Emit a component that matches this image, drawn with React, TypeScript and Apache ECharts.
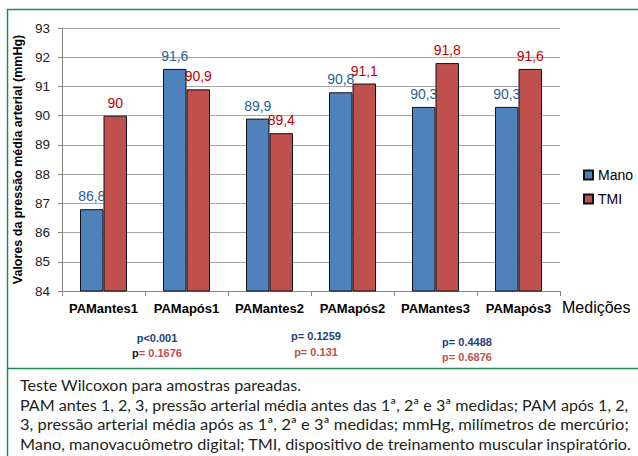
import React, { useEffect, useRef } from "react";
import * as echarts from "echarts";

const categories = ["PAMantes1", "PAMapós1", "PAMantes2", "PAMapós2", "PAMantes3", "PAMapós3"];
const manoValues = [86.8, 91.6, 89.9, 90.8, 90.3, 90.3];
const tmiValues = [90, 90.9, 89.4, 91.1, 91.8, 91.6];
const seriesNames = ["Mano", "TMI"];
const yMin = 84;
const yMax = 93;
const yInterval = 1;
const yAxisTitle = "Valores da pressão média arterial (mmHg)";
const xAxisTitle = "Medições";
const pManoLabels = ["p<0.001", "p= 0.1259", "p= 0.4488"];
const pTmiLabels = ["p= 0.1676", "p= 0.131", "p= 0.6876"];
const pTmiBlackP = [true, false, false];
const captionLines = [
  "Teste Wilcoxon para amostras pareadas.",
  "PAM antes 1, 2, 3, pressão arterial média antes das 1ª, 2ª e 3ª medidas; PAM após 1, 2,",
  "3, pressão arterial média após as 1ª, 2ª e 3ª medidas; mmHg, milímetros de mercúrio;",
  "Mano, manovacuômetro digital; TMI, dispositivo de treinamento muscular inspiratório.",
];

const BLUE = "#4f81bd";
const RED = "#c0504d";
const FRAME = "#1b8a4c";
const FONT = "Liberation Sans";

function measure(text: string, font: string): number {
  const ctx = document.createElement("canvas").getContext("2d");
  if (!ctx) return text.length * 7;
  ctx.font = font;
  return ctx.measureText(text).width;
}

export default function App() {
  const ref = useRef<HTMLDivElement>(null);

  useEffect(() => {
    if (!ref.current) return;
    const chart = echarts.init(ref.current, undefined, { renderer: "svg" });

    const fmt = (p: any) => String(p.value).replace(".", ",");

    const pCenters = [
      { x: 157, y1: 338, y2: 353 },
      { x: 316, y1: 336, y2: 352 },
      { x: 467, y1: 342, y2: 357 },
    ];
    const pGraphics: any[] = [];
    pManoLabels.forEach((t, i) => {
      const c = pCenters[i];
      pGraphics.push({
        type: "text",
        x: c.x,
        y: c.y1,
        style: {
          text: t,
          fill: "#1f3f77",
          font: `bold 11px "${FONT}"`,
          textAlign: "center",
          textVerticalAlign: "middle",
        },
      });
      const tmi = pTmiLabels[i];
      pGraphics.push({
        type: "text",
        x: c.x,
        y: c.y2,
        style: {
          text: pTmiBlackP[i] ? `{k|p}{r|${tmi.slice(1)}}` : `{r|${tmi}}`,
          font: `bold 11px "${FONT}"`,
          textAlign: "center",
          textVerticalAlign: "middle",
          rich: {
            k: { fill: "#111", font: `bold 11px "${FONT}"` },
            r: { fill: RED, font: `bold 11px "${FONT}"` },
          },
        },
      });
    });

    const capFont = `16px Lato`;
    const capLeft = 20;
    const capTargets = [0, 609, 609, 612];
    const capYs = [385, 405, 424, 444];
    const baseScale = capTargets[1] / measure(captionLines[1], capFont);
    const capGraphics = captionLines.map((line, i) => {
      const w = measure(line, capFont);
      const s = i === 0 ? baseScale : capTargets[i] / w;
      return {
        type: "text",
        x: capLeft,
        y: capYs[i],
        scaleX: s,
        style: {
          text: line,
          fill: "#231f20",
          font: capFont,
          textAlign: "left",
          textVerticalAlign: "middle",
        },
      };
    });

    const frame = [
      { type: "line", shape: { x1: 7, y1: 9.5, x2: 640, y2: 9.5 }, style: { stroke: FRAME, lineWidth: 1.5 } },
      { type: "line", shape: { x1: 7.5, y1: 9, x2: 7.5, y2: 460 }, style: { stroke: FRAME, lineWidth: 1.5 } },
      { type: "line", shape: { x1: 7, y1: 368.5, x2: 640, y2: 368.5 }, style: { stroke: FRAME, lineWidth: 1.5 } },
    ];

    const barCommon = {
      type: "bar" as const,
      barWidth: 23.5,
      barGap: "0%",
      label: {
        show: true,
        position: "top" as const,
        distance: 6,
        fontSize: 14,
        fontFamily: FONT,
        formatter: fmt,
      },
    };

    chart.setOption({
      animation: false,
      backgroundColor: "#fff",
      textStyle: { fontFamily: FONT },
      grid: { left: 62, top: 28, right: 78, bottom: 165, containLabel: false },
      legend: {
        data: seriesNames,
        orient: "vertical",
        left: 583,
        top: 168,
        itemWidth: 9,
        itemHeight: 9,
        itemGap: 10,
        padding: 0,
        icon: "rect",
        textStyle: { fontSize: 14, color: "#000", fontFamily: FONT },
      },
      xAxis: {
        type: "category",
        data: categories,
        axisLine: { lineStyle: { color: "#868686", width: 1 } },
        axisTick: { show: true, length: 5, lineStyle: { color: "#868686" } },
        axisLabel: { interval: 0, fontSize: 13, fontWeight: "bold", color: "#000", margin: 11 },
        name: xAxisTitle,
        nameLocation: "end",
        nameGap: 2,
        nameTextStyle: { fontSize: 16, color: "#000", verticalAlign: "top", padding: [8, 0, 0, 0] },
      },
      yAxis: {
        type: "value",
        min: yMin,
        max: yMax,
        interval: yInterval,
        axisLine: { show: true, lineStyle: { color: "#868686", width: 1 } },
        axisTick: { show: true, length: 4, lineStyle: { color: "#868686" } },
        splitLine: { lineStyle: { color: "#a6a6a6", width: 1 } },
        axisLabel: { fontSize: 13.5, color: "#222", margin: 12 },
        name: yAxisTitle,
        nameLocation: "middle",
        nameGap: 35,
        nameTextStyle: { fontSize: 12.5, fontWeight: "bold", color: "#000" },
      },
      series: [
        {
          ...barCommon,
          name: seriesNames[0],
          data: manoValues,
          itemStyle: { color: BLUE, borderColor: "#111", borderWidth: 1 },
          label: { ...barCommon.label, color: "#2f5c96" },
        },
        {
          ...barCommon,
          name: seriesNames[1],
          data: tmiValues,
          itemStyle: { color: RED, borderColor: "#111", borderWidth: 1 },
          label: { ...barCommon.label, color: "#c00000" },
        },
      ],
      graphic: [...frame, ...pGraphics, ...capGraphics],
    });

    return () => chart.dispose();
  }, []);

  return (
    <div
      ref={ref}
      style={{ position: "absolute", left: 0, top: 0, width: 638, height: 456, background: "#fff" }}
    />
  );
}
